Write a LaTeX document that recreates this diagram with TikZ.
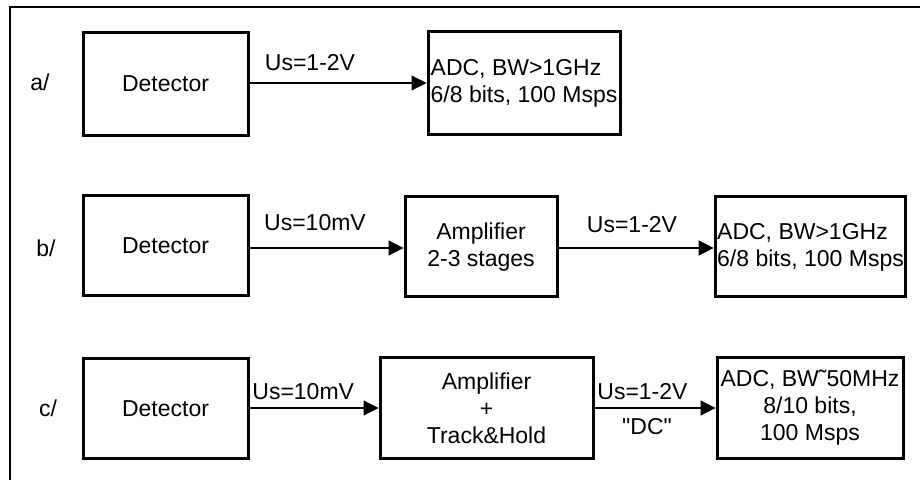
\documentclass[tikz,border=0pt]{standalone}
\usepackage{fontspec}
\setmainfont{Liberation Sans}
\newfontfamily\quotefont{Liberation Sans}
\usepackage{tikz}
\usetikzlibrary{arrows.meta,positioning}

\begin{document}
\begin{tikzpicture}[x=0.5pt,y=-0.5pt,
    font=\fontsize{11.5}{13.5}\selectfont,
    blk/.style={draw,line width=1.5pt,inner sep=1pt,align=center},
    leftblk/.style={blk,align=left},
    sig/.style={line width=0.6pt,-{Triangle[length=7.5pt,width=7.5pt]}},
    lbl/.style={inner sep=0pt}]
  \useasboundingbox (0,0) rectangle (920,480);
  % frame
  \draw[line width=0.6pt] (10,480) -- (10,7) -- (920,7);
  % a/ direct
  \node[lbl] (taga) at (40,82) {a/};
  \node[blk,minimum width=82.5pt,minimum height=51.5pt] (deta) at (165.5,84) {Detector};
  \node[leftblk,minimum width=96pt,minimum height=51.5pt] (adca) at (524,83.5)
    {ADC, BW>1GHz\\6/8 bits, 100 Msps};
  \draw[sig] (deta.east |- 0,83) -- (adca.west |- 0,83);
  \node[lbl] (usa) at (310,63) {Us=1-2V};
  % b/ with amplifier
  \node[lbl] (tagb) at (46,248) {b/};
  \node[blk,minimum width=82.5pt,minimum height=50pt] (detb) at (165.5,246) {Detector};
  \node[blk,minimum width=76pt,minimum height=50pt] (ampb) at (481,247) {Amplifier\\2-3 stages};
  \node[leftblk,minimum width=92.5pt,minimum height=50pt] (adcb) at (810.5,247)
    {ADC, BW>1GHz\\6/8 bits, 100 Msps};
  \draw[sig] (detb.east |- 0,248) -- (ampb.west |- 0,248);
  \draw[sig] (ampb.east |- 0,248) -- (adcb.west |- 0,248);
  \node[lbl] (usb1) at (315,223) {Us=10mV};
  \node[lbl] (usb2) at (632,225) {Us=1-2V};
  % c/ with track and hold
  \node[lbl] (tagc) at (48,408) {c/};
  \node[blk,minimum width=82.5pt,minimum height=49.5pt] (detc) at (165.5,408.5) {Detector};
  \node[blk,minimum width=106.5pt,minimum height=50pt] (ampc) at (486.5,408) {Amplifier\\+\\Track\&Hold};
  \node[blk,minimum width=93pt,minimum height=50pt] (adcc) at (810,408)
    {ADC, BW{\char"02DC}50MHz\\8/10 bits,\\100 Msps};
  \draw[sig] (detc.east |- 0,408) -- (ampc.west |- 0,408);
  \draw[sig] (ampc.east |- 0,408) -- (adcc.west |- 0,408);
  \node[lbl,anchor=west] (usc1) at (252,392) {Us=10mV};
  \node[lbl,anchor=west] (usc2) at (597,392) {Us=1-2V};
  \node[lbl,font=\fontsize{11.5}{13.5}\quotefont] (dcc) at (647,427) {"DC"};
\end{tikzpicture}
\end{document}
